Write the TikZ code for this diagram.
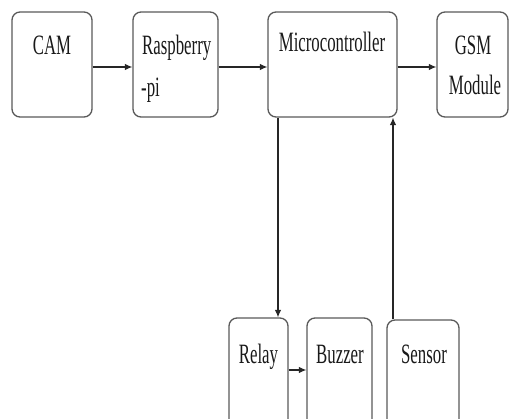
\documentclass[tikz,border=0pt]{standalone}
\usepackage{fontspec}
\usetikzlibrary{arrows.meta}
\newfontfamily\condfont[FakeStretch=0.6]{Liberation Serif}
\begin{document}
\begin{tikzpicture}[x=1pt,y=-1pt,
  box/.style={draw=black!65, line width=1.3pt, rounded corners=8pt, inner sep=0pt},
  txt/.style={font=\condfont\fontsize{28}{30}\selectfont, inner sep=0pt, text=black!90},
  conn/.style={line width=1.1pt, black!85, -{Latex[length=7.5pt,width=6.5pt]}}]
\useasboundingbox (0,0) rectangle (511,419);
\clip (0,0) rectangle (511,419);
% boxes
\node[box, minimum width=80pt, minimum height=105pt] (cam) at (52,64.5) {};
\node[box, minimum width=85pt, minimum height=105pt] (rasp) at (175.5,64.5) {};
\node[box, minimum width=129pt, minimum height=105pt] (micro) at (332.5,64.5) {};
\node[box, minimum width=71pt, minimum height=105pt] (gsm) at (472.5,64.5) {};
\node[box, minimum width=59pt, minimum height=130pt] (relay) at (258.5,383) {};
\node[box, minimum width=65pt, minimum height=130pt] (buzzer) at (339.5,383) {};
\node[box, minimum width=72pt, minimum height=130pt] (sensor) at (423,385) {};
% texts
\node[txt, anchor=base] (camt) at (52,55) {CAM};
\node[txt, anchor=base west] (raspt1) at (142,55) {Raspberry};
\node[txt, anchor=base west] (raspt2) at (141,97) {-pi};
\node[txt, anchor=base] (microt) at (332,52) {Microcontroller};
\node[txt, anchor=base] (gsmt1) at (473,55) {GSM};
\node[txt, anchor=base] (gsmt2) at (475,95) {Module};
\node[txt, anchor=base] (relayt) at (258.5,363) {Relay};
\node[txt, anchor=base] (buzzert) at (340,363) {Buzzer};
\node[txt, anchor=base] (sensort) at (424,363) {Sensor};
% connector coordinates
\coordinate (rl) at (278,0);
\coordinate (sl) at (393,0);
\coordinate (hy) at (0,67);
\coordinate (by) at (0,370);
% connectors
\draw[conn] (cam.east |- hy) -- (rasp.west |- hy);
\draw[conn] (rasp.east |- hy) -- (micro.west |- hy);
\draw[conn] (micro.east |- hy) -- (gsm.west |- hy);
\draw[conn] (micro.south -| rl) -- (relay.north -| rl);
\draw[conn] (sensor.north -| sl) -- (micro.south -| sl);
\draw[conn] (relay.east |- by) -- (buzzer.west |- by);
\end{tikzpicture}
\end{document}
